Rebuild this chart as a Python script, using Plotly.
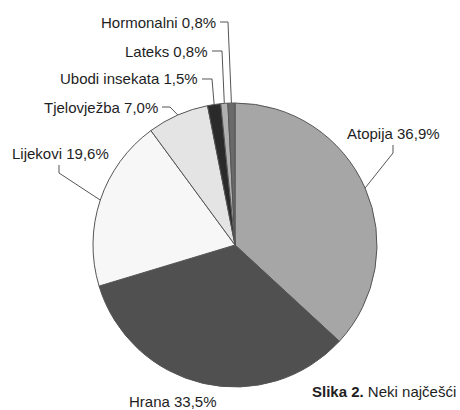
import math
import plotly.graph_objects as go

# ---- data ----
categories = ["Atopija", "Hrana", "Lijekovi", "Tjelovježba", "Ubodi insekata", "Lateks", "Hormonalni"]
values = [36.9, 33.5, 19.6, 7.0, 1.5, 0.8, 0.8]
value_labels = ["36,9%", "33,5%", "19,6%", "7,0%", "1,5%", "0,8%", "0,8%"]
colors = ["#a6a6a6", "#505050", "#f7f7f7", "#e4e4e4", "#2a2a2a", "#b0b0b0", "#6a6a6a"]

W, H = 460, 410
CX, CY, R = 235, 245, 142  # pie centre / radius in pixels

def px(x):
    return x / W

def py(y):
    return 1 - y / H

# label placement (pixels): x, y, anchor, elbow points (None -> no leader)
label_layout = {
    "Atopija": (345, 133, "left", [(393, 145), (393, 153)]),
    "Hrana": (127, 401, "left", None),
    "Lijekovi": (10, 153, "left", [(59, 165), (59, 173)]),
    "Tjelovježba": (160, 107, "right", [(162, 107), (170, 107)]),
    "Ubodi insekata": (200, 79, "right", [(202, 79), (212, 79)]),
    "Lateks": (210, 51, "right", [(212, 51), (222, 51)]),
    "Hormonalni": (218, 22, "right", [(220, 22), (228, 22)]),
}

fig = go.Figure(go.Pie(
    labels=categories,
    values=values,
    sort=False,
    direction="clockwise",
    rotation=0,
    textinfo="none",
    marker=dict(colors=colors, line=dict(color="#555555", width=1)),
    domain=dict(x=[px(CX - R), px(CX + R)], y=[py(CY + R), py(CY - R)]),
    showlegend=False,
))

total = sum(values)
cum = 0.0
annotations = []
shapes = []
FONT = dict(family="Liberation Sans, Arial", size=15, color="#1e1e1e")
for cat, v, vl in zip(categories, values, value_labels):
    mid = (cum + v / 2) / total * 2 * math.pi
    cum += v
    ex = CX + R * math.sin(mid)
    ey = CY - R * math.cos(mid)
    lx, ly, anchor, elbow = label_layout[cat]
    annotations.append(dict(
        x=px(lx), y=py(ly), xref="paper", yref="paper",
        text=f"{cat} {vl}", showarrow=False,
        xanchor=anchor, yanchor="middle", font=FONT,
    ))
    if elbow:
        pts = elbow + [(ex, ey)]
        path = "M " + " L ".join(f"{px(a):.5f},{py(b):.5f}" for a, b in pts)
        shapes.append(dict(type="path", path=path, xref="paper", yref="paper",
                           line=dict(color="#555555", width=1)))

annotations.append(dict(
    x=px(310), y=py(391), xref="paper", yref="paper",
    text="<b>Slika 2.</b> Neki najčešći", showarrow=False,
    xanchor="left", yanchor="middle", font=FONT,
))
annotations.append(dict(
    x=px(318), y=py(417), xref="paper", yref="paper",
    text="uzročnici anafilaksije. Slika¹", showarrow=False,
    xanchor="left", yanchor="middle", font=FONT,
))

fig.update_layout(
    width=W, height=H,
    margin=dict(l=0, r=0, t=0, b=0),
    paper_bgcolor="white", plot_bgcolor="white",
    annotations=annotations, shapes=shapes,
)

fig.write_html(
    "out.html",
    config={"displayModeBar": False},
    post_script="document.body.style.margin='0';document.body.style.overflow='hidden';",
)
